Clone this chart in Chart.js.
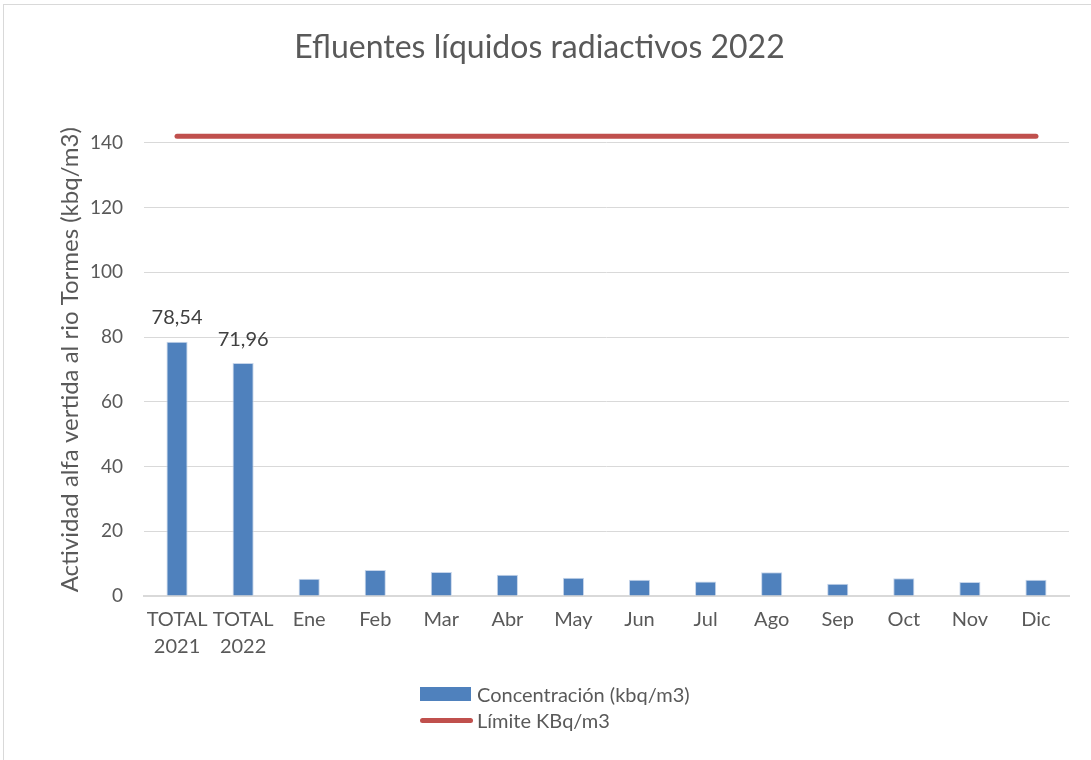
<!DOCTYPE html>
<html>
<head>
<meta charset="utf-8">
<script src="https://cdn.jsdelivr.net/npm/chart.js@4/dist/chart.umd.min.js"></script>
<style>
  body { margin: 0; background: #fff; font-family: Lato, sans-serif; }
  #wrap { position: relative; width: 1091px; height: 760px; overflow: hidden; }
  #frame { position: absolute; left: 3px; top: 4px; width: 1100px; height: 800px; border: 1px solid #d9d9d9; box-sizing: border-box; }
  canvas { position: absolute; left: 0; top: 0; }
  .leg { position: absolute; left: 420px; color: #595959; font-size: 20px; display: flex; align-items: center; height: 24px; }
  .leg .sw { width: 51px; margin-right: 6px; }
</style>
</head>
<body>
<div id="wrap">
  <div id="frame"></div>
  <canvas id="my-chart" width="1091" height="760"></canvas>
  <div id="legend"></div>
</div>
<script>
const categories = [['TOTAL', '2021'], ['TOTAL', '2022'], 'Ene', 'Feb', 'Mar', 'Abr', 'May', 'Jun', 'Jul', 'Ago', 'Sep', 'Oct', 'Nov', 'Dic'];
const concentracion = [78.54, 71.96, 5.3, 8.0, 7.4, 6.6, 5.6, 5.0, 4.5, 7.3, 3.8, 5.5, 4.3, 5.0];
const limite = [142, 142, 142, 142, 142, 142, 142, 142, 142, 142, 142, 142, 142, 142];
const labelledBars = [0, 1];
const yTicks = [0, 20, 40, 60, 80, 100, 120, 140];

const textColor = '#595959';
const gridColor = '#d9d9d9';

// value labels above the two totals
const barLabels = {
  id: 'barLabels',
  afterDatasetsDraw(chart) {
    const ctx = chart.ctx;
    const meta = chart.getDatasetMeta(0);
    ctx.save();
    ctx.font = '20px Lato';
    ctx.fillStyle = '#404040';
    ctx.textAlign = 'center';
    ctx.textBaseline = 'middle';
    labelledBars.forEach(function (i) {
      const bar = meta.data[i];
      const txt = concentracion[i].toFixed(2).replace('.', ',');
      ctx.fillText(txt, bar.x, bar.y - 24);
    });
    ctx.restore();
  }
};

const ctx = document.getElementById('my-chart').getContext('2d');
const chart = new Chart(ctx, {
  data: {
    labels: categories,
    datasets: [
      {
        type: 'bar',
        label: 'Concentración (kbq/m3)',
        data: concentracion,
        backgroundColor: '#4f81bd',
        borderColor: '#c6d5ea',
        borderWidth: { top: 1, left: 1, right: 1, bottom: 0 },
        categoryPercentage: 1,
        barPercentage: 0.32,
        order: 2
      },
      {
        type: 'line',
        label: 'Límite KBq/m3',
        data: limite,
        borderColor: '#c0504d',
        borderWidth: 5,
        borderCapStyle: 'round',
        pointRadius: 0,
        fill: false,
        order: 1
      }
    ]
  },
  options: {
    responsive: false,
    animation: false,
    layout: { padding: { left: 10, right: 22, top: 0, bottom: 100 } },
    plugins: {
      legend: { display: false },
      tooltip: { enabled: false },
      title: {
        display: true,
        text: 'Efluentes líquidos radiactivos 2022',
        color: textColor,
        font: { family: 'Lato', size: 32, weight: 'normal' },
        padding: { top: 28, bottom: 57 }
      }
    },
    scales: {
      x: {
        grid: { display: false, drawTicks: false },
        border: { display: true, color: gridColor, width: 2 },
        ticks: {
          color: textColor,
          font: { family: 'Lato', size: 20, lineHeight: 27 / 20 },
          padding: 10,
          maxRotation: 0,
          autoSkip: false
        },
        afterFit: function (scale) { scale.height = 64; }
      },
      y: {
        min: 0,
        max: 146,
        afterBuildTicks: function (scale) {
          scale.ticks = yTicks.map(function (v) { return { value: v }; });
        },
        grid: { color: gridColor, lineWidth: 1, drawTicks: false },
        border: { display: false },
        ticks: {
          color: textColor,
          font: { family: 'Lato', size: 19 },
          padding: 21
        },
        title: {
          display: true,
          text: 'Actividad alfa vertida al rio Tormes (kbq/m3)',
          color: textColor,
          font: { family: 'Lato', size: 24 },
          padding: { top: 46, bottom: 0 }
        },
        afterFit: function (scale) { scale.width = 134; }
      }
    }
  },
  plugins: [barLabels]
});

// legend stacked in two rows, built from the datasets
const legendBox = document.getElementById('legend');
const legendTops = [682, 708];
chart.data.datasets.forEach(function (ds, i) {
  const row = document.createElement('div');
  row.className = 'leg';
  row.style.top = legendTops[i] + 'px';
  const sw = document.createElement('span');
  sw.className = 'sw';
  if (ds.type === 'bar') {
    sw.style.height = '14px';
    sw.style.background = ds.backgroundColor;
  } else {
    sw.style.height = '5px';
    sw.style.borderRadius = '3px';
    sw.style.background = ds.borderColor;
    sw.style.width = '53px';
    sw.style.marginRight = '4px';
  }
  const txt = document.createElement('span');
  txt.textContent = ds.label;
  row.appendChild(sw);
  row.appendChild(txt);
  legendBox.appendChild(row);
});
</script>
</body>
</html>
